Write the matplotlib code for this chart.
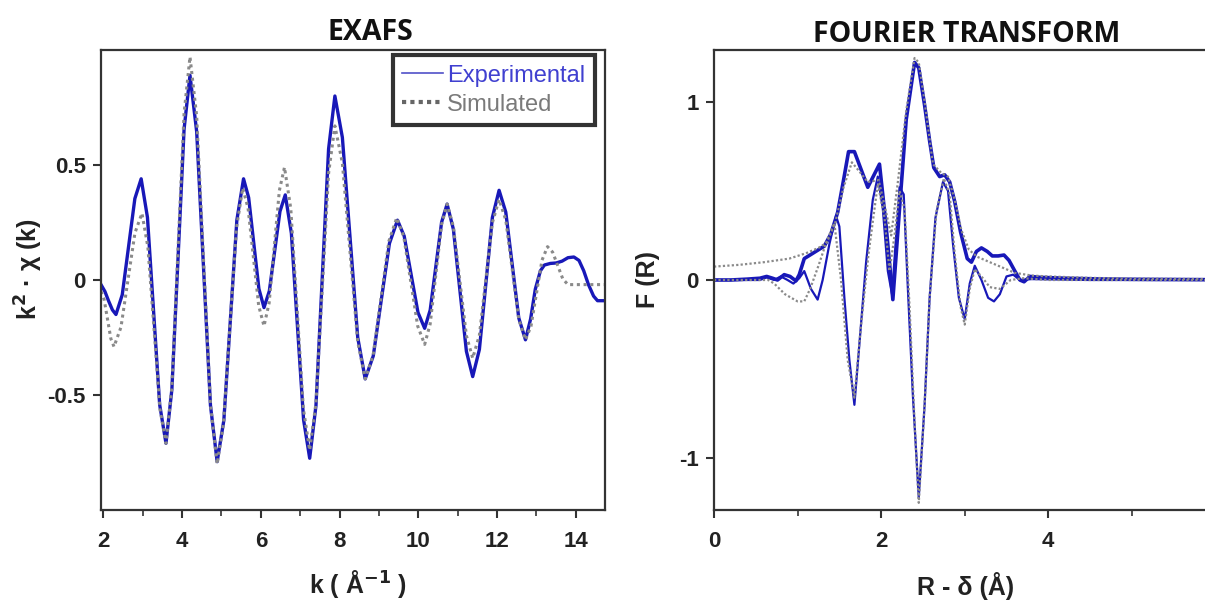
import numpy as np
import matplotlib
matplotlib.use("Agg")
import matplotlib.pyplot as plt
from matplotlib.ticker import MultipleLocator, FixedLocator
from matplotlib.lines import Line2D

plt.rcParams['font.family'] = ['Liberation Sans', 'DejaVu Sans']
plt.rcParams['axes.unicode_minus'] = False

# ---- EXAFS: k, k^2 chi(k) ----
k_exp = [1.94, 2.04, 2.13, 2.23, 2.32, 2.48, 2.64, 2.80, 2.96, 3.12, 3.275, 3.43, 3.59,
         3.74, 3.895, 4.05, 4.20, 4.37, 4.545, 4.72, 4.89, 5.06, 5.225, 5.39, 5.56,
         5.69, 5.82, 5.95, 6.08, 6.215, 6.35, 6.485, 6.62, 6.775, 6.93, 7.085, 7.24,
         7.40, 7.56, 7.72, 7.88, 8.07, 8.265, 8.46, 8.65, 8.855, 9.06, 9.265, 9.47,
         9.64, 9.815, 9.99, 10.16, 10.30, 10.445, 10.59, 10.73, 10.89, 11.055, 11.22, 11.38,
         11.55, 11.715, 11.88, 12.05, 12.22, 12.385, 12.55, 12.72, 12.85, 12.97, 13.1,
         13.2, 13.35, 13.5, 13.65, 13.8, 13.95, 14.08, 14.2, 14.32, 14.45, 14.55, 14.74]
chi_exp = [-0.02, -0.05, -0.09, -0.13, -0.15, -0.064, 0.145, 0.354, 0.44, 0.272, -0.135, -0.542, -0.71,
           -0.476, 0.09, 0.656, 0.89, 0.645, 0.05, -0.545, -0.79, -0.61, -0.175, 0.26, 0.44,
           0.358, 0.16, -0.038, -0.12, -0.048, 0.125, 0.298, 0.37, 0.203, -0.2025, -0.608, -0.775,
           -0.545, 0.0125, 0.57, 0.80, 0.62, 0.185, -0.25, -0.43, -0.33, -0.085, 0.159, 0.26,
           0.191, 0.025, -0.141, -0.21, -0.131, 0.06, 0.251, 0.33, 0.22, -0.045, -0.31, -0.42,
           -0.302, -0.015, 0.272, 0.39, 0.295, 0.065, -0.165, -0.26, -0.17, -0.04, 0.04,
           0.065, 0.072, 0.074, 0.082, 0.097, 0.10, 0.085, 0.04, -0.02, -0.07, -0.09, -0.09]

k_sim = [1.94, 2.02, 2.105, 2.19, 2.27, 2.4475, 2.625, 2.8025, 2.98, 3.13, 3.285, 3.44, 3.59,
         3.74, 3.895, 4.05, 4.20, 4.37, 4.545, 4.72, 4.89, 5.05, 5.215, 5.38, 5.54,
         5.675, 5.81, 5.945, 6.08, 6.21, 6.34, 6.47, 6.60, 6.76, 6.92, 7.08, 7.24,
         7.40, 7.56, 7.72, 7.88, 8.07, 8.265, 8.46, 8.65, 8.85, 9.05, 9.25, 9.45,
         9.6275, 9.805, 9.9825, 10.16, 10.30, 10.445, 10.59, 10.73, 10.89, 11.055, 11.22, 11.38,
         11.55, 11.715, 11.88, 12.05, 12.22, 12.385, 12.55, 12.72, 12.86, 13.0, 13.14, 13.28,
         13.41, 13.54, 13.67, 13.8, 14.1, 14.4, 14.74]
chi_sim = [-0.05, -0.085, -0.17, -0.255, -0.29, -0.205, 0.0, 0.205, 0.29, 0.144, -0.21, -0.564, -0.71,
           -0.465, 0.13, 0.725, 0.97, 0.712, 0.085, -0.542, -0.80, -0.625, -0.20, 0.225, 0.40,
           0.312, 0.10, -0.112, -0.20, -0.10, 0.145, 0.389, 0.49, 0.31, -0.125, -0.56, -0.74,
           -0.534, -0.035, 0.464, 0.67, 0.509, 0.12, -0.269, -0.43, -0.328, -0.08, 0.168, 0.27,
           0.19, -0.005, -0.20, -0.28, -0.191, 0.025, 0.241, 0.33, 0.232, -0.005, -0.242, -0.34,
           -0.24, 0.005, 0.249, 0.35, 0.261, 0.045, -0.171, -0.26, -0.201, -0.0575, 0.086, 0.145,
           0.121, 0.0625, 0.004, -0.02, -0.02, -0.02, -0.02]

# ---- Fourier transform: R, |F| and Im F ----
r_mag_exp = [0.0, 0.2, 0.4, 0.55, 0.63, 0.70, 0.76, 0.84, 0.91, 0.98, 1.02, 1.08, 1.20, 1.32,
             1.40, 1.48, 1.55, 1.61, 1.68, 1.84, 1.98, 2.06, 2.14, 2.22, 2.30, 2.40, 2.45,
             2.52, 2.58, 2.63, 2.70, 2.76, 2.82, 2.88, 2.95, 3.03, 3.08, 3.14, 3.20, 3.27,
             3.33, 3.40, 3.47, 3.53, 3.60, 3.66, 3.71, 3.78, 3.9, 4.2, 4.6, 5.0, 5.4, 5.875]
f_mag_exp = [0.0, 0.0, 0.005, 0.01, 0.02, 0.01, 0.0, 0.03, 0.02, -0.005, 0.03, 0.12, 0.155, 0.19,
             0.26, 0.38, 0.56, 0.72, 0.72, 0.52, 0.65, 0.30, -0.11, 0.40, 0.90, 1.22, 1.19,
             0.98, 0.78, 0.63, 0.58, 0.59, 0.55, 0.44, 0.27, 0.12, 0.10, 0.16, 0.18, 0.16,
             0.135, 0.135, 0.14, 0.11, 0.05, 0.0, -0.01, 0.02, 0.015, 0.01, 0.006, 0.004, 0.003, 0.002]

r_im_exp = [0.0, 0.3, 0.55, 0.63, 0.72, 0.80, 0.88, 0.95, 1.02, 1.08, 1.16, 1.24, 1.30, 1.38,
            1.46, 1.50, 1.56, 1.62, 1.68, 1.75, 1.82, 1.90, 1.96, 2.02, 2.08, 2.13, 2.18,
            2.22, 2.27, 2.32, 2.38, 2.45, 2.52, 2.58, 2.65, 2.74, 2.80, 2.86, 2.93, 3.00,
            3.06, 3.12, 3.20, 3.28, 3.35, 3.42, 3.50, 3.58, 3.66, 3.8, 4.5, 5.875]
f_im_exp = [0.0, 0.0, 0.0, 0.015, 0.0, 0.02, 0.0, -0.02, 0.01, 0.05, -0.05, -0.11, 0.0, 0.2,
            0.36, 0.30, -0.10, -0.45, -0.70, -0.30, 0.10, 0.45, 0.58, 0.40, 0.05, -0.08, 0.25,
            0.52, 0.48, -0.05, -0.65, -1.22, -0.70, -0.10, 0.35, 0.55, 0.50, 0.20, -0.10, -0.22,
            -0.02, 0.08, 0.0, -0.10, -0.12, -0.08, 0.02, 0.03, 0.0, 0.005, 0.0, 0.0]

r_mag_sim = [0.0, 0.3, 0.6, 0.9, 1.1, 1.25, 1.35, 1.45, 1.55, 1.65, 1.72, 1.84, 1.97, 2.05,
             2.12, 2.20, 2.30, 2.40, 2.45, 2.52, 2.62, 2.72, 2.80, 2.88, 2.96, 3.05, 3.15,
             3.3, 3.45, 3.6, 3.8, 4.0, 4.5, 5.0, 5.875]
f_mag_sim = [0.075, 0.085, 0.10, 0.12, 0.15, 0.18, 0.21, 0.32, 0.52, 0.66, 0.62, 0.55, 0.56, 0.40,
             0.25, 0.55, 0.95, 1.245, 1.22, 1.0, 0.65, 0.60, 0.58, 0.45, 0.28, 0.17, 0.13,
             0.10, 0.07, 0.04, 0.025, 0.02, 0.012, 0.008, 0.005]

r_im_sim = [0.0, 0.4, 0.65, 0.72, 0.85, 1.0, 1.08, 1.15, 1.25, 1.35, 1.44, 1.52, 1.60, 1.68,
            1.76, 1.85, 1.96, 2.04, 2.10, 2.16, 2.22, 2.28, 2.34, 2.40, 2.45, 2.52, 2.58,
            2.66, 2.75, 2.82, 2.88, 2.95, 3.00, 3.06, 3.12, 3.2, 3.3, 3.42, 3.55, 3.7, 4.0, 5.875]
f_im_sim = [0.0, 0.0, 0.0, -0.02, -0.08, -0.12, -0.12, -0.05, 0.08, 0.22, 0.32, 0.0, -0.45, -0.66,
            -0.25, 0.15, 0.54, 0.35, 0.05, 0.25, 0.50, 0.40, -0.15, -0.80, -1.25, -0.70, -0.10,
            0.38, 0.57, 0.48, 0.15, -0.15, -0.25, -0.05, 0.06, 0.02, -0.04, -0.05, 0.0, 0.01, 0.0, 0.0]

blue = '#1818b8'
gray = '#8a8a8a'
W, H = 1205, 602

fig = plt.figure(figsize=(W / 100, H / 100), dpi=100)
ax1 = fig.add_axes([101 / W, 1 - 510 / H, (605 - 101) / W, 460 / H])
ax2 = fig.add_axes([714 / W, 1 - 510 / H, (1205 - 714) / W, 460 / H])

# left panel
ax1.plot(k_exp, chi_exp, color=blue, lw=2.4, solid_joinstyle='round')
ax1.plot(k_sim, chi_sim, color=gray, lw=2.2, linestyle=(0, (1, 1.2)))
ax1.set_xlim(1.94, 14.74)
ax1.set_ylim(-1.0, 1.0)
ax1.xaxis.set_major_locator(MultipleLocator(2))
ax1.xaxis.set_minor_locator(MultipleLocator(1))
ax1.yaxis.set_major_locator(FixedLocator([-0.5, 0, 0.5]))
ax1.set_yticklabels(['-0.5', '0', '0.5'])

h_exp = Line2D([], [], color='#5050c8', lw=1.2)
h_sim = Line2D([], [], color='#666666', lw=3, linestyle=(0, (1, 1)))
leg = ax1.legend([h_exp, h_sim], ['Experimental', 'Simulated'], loc='upper right',
                 bbox_to_anchor=(0.98, 0.989), borderaxespad=0, fancybox=False,
                 frameon=True, handlelength=1.7, handletextpad=0.2, borderpad=0.4,
                 labelspacing=0.3, prop={'family': 'Liberation Sans', 'size': 17},
                 labelcolor=['#4040d0', '#7a7a7a'])
leg.get_frame().set_edgecolor('black')
leg.get_frame().set_linewidth(3)

# right panel
ax2.plot(r_mag_exp, f_mag_exp, color=blue, lw=2.6)
ax2.plot(r_im_exp, f_im_exp, color=blue, lw=1.6)
ax2.plot(r_mag_sim, f_mag_sim, color=gray, lw=1.6, linestyle=(0, (1, 1)))
ax2.plot(r_im_sim, f_im_sim, color=gray, lw=1.6, linestyle=(0, (1, 1)))
ax2.set_xlim(0, 5.875)
ax2.set_ylim(-1.29, 1.29)
ax2.xaxis.set_major_locator(FixedLocator([0, 2, 4]))
ax2.xaxis.set_minor_locator(FixedLocator([1, 3, 5]))
ax2.yaxis.set_major_locator(FixedLocator([-1, 0, 1]))
ax2.set_yticklabels(['-1', '0', '1'])
ax2.spines['right'].set_visible(False)

for ax in (ax1, ax2):
    for s in ax.spines.values():
        s.set_linewidth(1.6)
        s.set_color('#333333')
    ax.tick_params(which='major', direction='out', length=6, width=1.5,
                   labelsize=16, pad=5, color='#333333')
    ax.tick_params(axis='x', which='major', pad=9)
    ax.tick_params(which='minor', direction='out', length=4, width=1.2, color='#333333')
    for lab in ax.get_xticklabels() + ax.get_yticklabels():
        lab.set_fontweight('bold')
        lab.set_color('#222222')

# titles and axis labels
tfont = ['Open Sans', 'DejaVu Sans']
fig.text(370 / W, 1 - 40 / H, 'EXAFS', ha='center', va='baseline',
         fontsize=20.5, fontweight='bold', family=tfont, color='#111111')
fig.text(967 / W, 1 - 42 / H, 'FOURIER TRANSFORM', ha='center', va='baseline',
         fontsize=20.5, fontweight='bold', family=tfont, color='#111111')
fig.text(358 / W, 1 - 593 / H, r'k ( Å$^{\mathbf{-1}}$ )', ha='center', va='baseline',
         fontsize=18, fontweight='bold', color='#222222')
fig.text(966 / W, 1 - 595 / H, 'R - δ (Å)', ha='center', va='baseline',
         fontsize=18, fontweight='bold', color='#222222')
fig.text(29 / W, 1 - 269 / H, r'k$^{\mathbf{2}}$ · χ (k)', ha='center', va='center',
         rotation=90, fontsize=18, fontweight='bold', color='#222222')
fig.text(648 / W, 1 - 280 / H, 'F (R)', ha='center', va='center',
         rotation=90, fontsize=18, fontweight='bold', color='#222222')

fig.savefig('out.png', dpi=100, facecolor='white')
